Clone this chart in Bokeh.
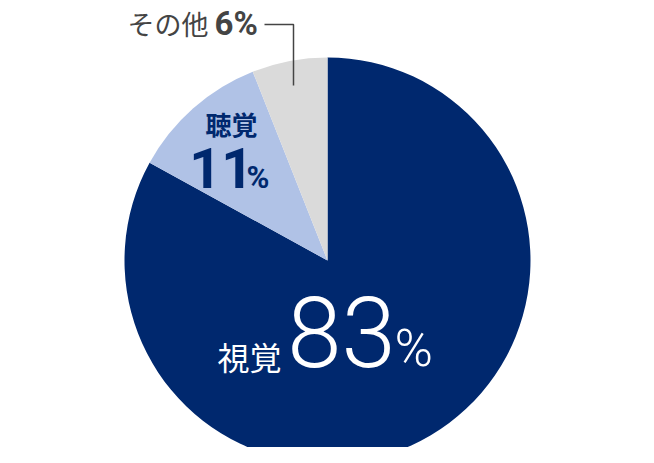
import numpy as np
from bokeh.plotting import figure
from bokeh.models import ColumnDataSource, Range1d
from bokeh.core.properties import value
from bokeh.embed import file_html
from bokeh.resources import INLINE

# ---- data ----
categories = ["視覚", "聴覚", "その他"]
values = [83, 11, 6]
colors = ["#00286e", "#b0c2e6", "#dadada"]

# ---- geometry (reference pixel space, y measured from top) ----
H = 463
CX, CY, R = 327, 260, 203

def Y(y):
    return H - y

fr = np.array(values, dtype=float) / sum(values)
cum_end = np.cumsum(fr)
cum_start = cum_end - fr
src = ColumnDataSource(dict(
    start=np.pi / 2 - 2 * np.pi * cum_end,
    end=np.pi / 2 - 2 * np.pi * cum_start,
    color=colors,
    cat=categories,
))

p = figure(width=638, height=447, output_backend="svg", toolbar_location=None,
           x_range=Range1d(0, 638), y_range=Range1d(H - 447, H),
           min_border=0, outline_line_color=None, background_fill_color="white")
p.axis.visible = False
p.grid.visible = False

p.wedge(x=CX, y=Y(CY), radius=R, start_angle="start", end_angle="end",
        fill_color="color", line_color=None, source=src)

JP = value("Noto Sans CJK JP")
NUM = value("Roboto")
NUM_L = value("Roboto Light")

navy = colors[0]
gray_txt = "#444444"

# その他 6%
p.text(x=[127], y=[Y(23)], text=[categories[2]], text_font=JP, text_font_size="27px",
       text_color=gray_txt, text_baseline="middle", text_align="left")
p.text(x=[214], y=[Y(22.5)], text=[f"{values[2]}%"], text_font=NUM, text_font_size="33px",
       text_font_style="bold", text_color=gray_txt, text_baseline="middle", text_align="left")
p.line(x=[264, 293, 293], y=[Y(24), Y(24), Y(85)], line_color=gray_txt, line_width=1.5)

# 聴覚 11%
p.text(x=[205], y=[Y(123)], text=[categories[1]], text_font=JP, text_font_size="26px",
       text_font_style="bold", text_color=navy, text_baseline="middle", text_align="left")
p.text(x=[253], y=[Y(167.5)], text=[f"{values[1]}"], text_font=NUM, text_font_size="56px",
       text_font_style="bold", text_color=navy, text_baseline="middle", text_align="right")
p.text(x=[246], y=[Y(176.5)], text=["%"], text_font=NUM, text_font_size="31px",
       text_font_style="bold", text_color=navy, text_baseline="middle", text_align="left")

# 視覚 83%
p.text(x=[217], y=[Y(355)], text=[categories[0]], text_font=JP, text_font_size="32px",
       text_color="white", text_baseline="middle", text_align="left")
p.text(x=[341], y=[Y(331)], text=[f"{values[0]}"], text_font=NUM_L, text_font_size="98px",
       text_color="white", text_baseline="middle", text_align="center")
p.text(x=[394], y=[Y(347.5)], text=["%"], text_font=NUM_L, text_font_size="52px",
       text_color="white", text_baseline="middle", text_align="left")

open("out.html", "w").write(file_html(p, INLINE))
